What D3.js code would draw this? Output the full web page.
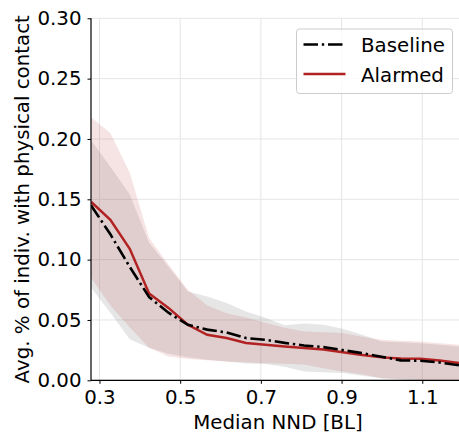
<!DOCTYPE html>
<html>
<head>
<meta charset="utf-8">
<script src="https://cdn.jsdelivr.net/npm/d3@7"></script>
<style>
  body { margin: 0; background: #fff; }
  svg { display: block; font-family: "DejaVu Sans", sans-serif; }
</style>
</head>
<body>
<svg id="chart" width="459" height="434"></svg>
<script>
// median nearest-neighbour distance (body lengths)
const nnd = [0.279, 0.327, 0.375, 0.423, 0.471, 0.519, 0.567, 0.615, 0.663, 0.711,
             0.759, 0.807, 0.855, 0.903, 0.951, 0.999, 1.047, 1.095, 1.143, 1.191];

// baseline condition: mean and band
const baseMean = [0.145, 0.121, 0.094, 0.069, 0.056, 0.046, 0.042, 0.0396, 0.035, 0.0336,
                  0.031, 0.0289, 0.0275, 0.025, 0.0225, 0.0195, 0.0165, 0.0162, 0.0148, 0.0124];
const baseHi = [0.199, 0.177, 0.154, 0.114, 0.094, 0.0736, 0.0694, 0.064, 0.057, 0.0518,
                0.0456, 0.047, 0.046, 0.0427, 0.0377, 0.0322, 0.0315, 0.0308, 0.0294, 0.028];
const baseLo = [0.077, 0.056, 0.034, 0.027, 0.022, 0.019, 0.017, 0.0155, 0.014, 0.0135,
                0.0112, 0.0073, 0.0066, 0.006, 0.0037, 0.0018, 0.0004, 0, 0, 0];

// alarmed condition: mean and band
const alarmMean = [0.148, 0.133, 0.109, 0.072, 0.060, 0.046, 0.0377, 0.035, 0.031, 0.0294,
                   0.028, 0.0267, 0.0255, 0.0232, 0.021, 0.019, 0.018, 0.0178, 0.0165, 0.0143];
const alarmHi = [0.218, 0.205, 0.172, 0.118, 0.096, 0.075, 0.062, 0.0555, 0.052, 0.0477,
                 0.0435, 0.0404, 0.0398, 0.0391, 0.036, 0.0336, 0.0327, 0.0322, 0.0307, 0.0294];
const alarmLo = [0.085, 0.062, 0.044, 0.027, 0.0197, 0.0176, 0.0166, 0.0156, 0.015, 0.0142,
                 0.0138, 0.013, 0.010, 0.0073, 0.005, 0.0018, 0.001, 0.0003, 0, 0];

const xTicks = [0.3, 0.5, 0.7, 0.9, 1.1];
const yTicks = [0, 0.05, 0.10, 0.15, 0.20, 0.25, 0.30];
const seriesNames = ["Baseline", "Alarmed"];

const mLeft = 91, mRight = 459, mTop = 18.3, mBottom = 380.3;
const fs = 19.8;
const dashDot = "14.5,3.8,2.4,3.8";

const svg = d3.select("#chart");
const x = d3.scaleLinear().domain(d3.extent(nnd)).range([mLeft, mRight]);
const y = d3.scaleLinear().domain([0, 0.30]).range([mBottom, mTop]);

svg.append("defs").append("clipPath").attr("id", "plotclip")
  .append("rect").attr("x", mLeft).attr("y", mTop).attr("width", mRight - mLeft).attr("height", mBottom - mTop);

// grid
const grid = svg.append("g").attr("stroke", "#e5e5e5").attr("stroke-width", 1);
grid.selectAll("line.v").data(xTicks).join("line").attr("class", "v")
  .attr("x1", d => x(d)).attr("x2", d => x(d)).attr("y1", mTop).attr("y2", mBottom);
grid.selectAll("line.h").data(yTicks).join("line").attr("class", "h")
  .attr("x1", mLeft).attr("x2", mRight).attr("y1", d => y(d)).attr("y2", d => y(d));

const plot = svg.append("g").attr("clip-path", "url(#plotclip)");

const area = (lo, hi) => d3.area()
  .x((d, i) => x(nnd[i])).y0((d, i) => y(lo[i])).y1((d, i) => y(hi[i]));

plot.append("path").attr("d", area(baseLo, baseHi)(nnd))
  .attr("fill", "#808080").attr("fill-opacity", 0.2);
plot.append("path").attr("d", area(alarmLo, alarmHi)(nnd))
  .attr("fill", "#b22222").attr("fill-opacity", 0.12);

const line = vals => d3.line().x((d, i) => x(nnd[i])).y((d, i) => y(vals[i]));

plot.append("path").attr("d", line(alarmMean)(nnd))
  .attr("fill", "none").attr("stroke", "#b22222").attr("stroke-width", 2.5);
plot.append("path").attr("d", line(baseMean)(nnd))
  .attr("fill", "none").attr("stroke", "#000").attr("stroke-width", 2.6)
  .attr("stroke-dasharray", dashDot);

// axes
const xAxis = svg.append("g").attr("transform", `translate(0,${mBottom})`)
  .call(d3.axisBottom(x).tickValues(xTicks).tickFormat(d3.format(".1f")).tickSize(3.5).tickPadding(6));
const yAxis = svg.append("g").attr("transform", `translate(${mLeft},0)`)
  .call(d3.axisLeft(y).tickValues(yTicks).tickFormat(d3.format(".2f")).tickSize(3.5).tickPadding(6));
[xAxis, yAxis].forEach(a => {
  a.select(".domain").attr("stroke", "#000").attr("stroke-width", 1.2);
  a.selectAll(".tick line").attr("stroke", "#000").attr("stroke-width", 1);
  a.selectAll(".tick text").attr("fill", "#000").style("font-size", fs + "px").style("font-family", "DejaVu Sans");
});
xAxis.select(".domain").attr("d", `M${mLeft},0H${mRight}`);
yAxis.select(".domain").attr("d", `M0,${mBottom}V${mTop}`);

svg.append("text").attr("x", (mLeft + mRight) / 2 + 3).attr("y", 429)
  .attr("text-anchor", "middle").style("font-size", fs + "px").text("Median NND [BL]");
svg.append("text").attr("transform", `translate(28.5,${(mTop + mBottom) / 2}) rotate(-90)`)
  .attr("text-anchor", "middle").style("font-size", fs + "px")
  .text("Avg. % of indiv. with physical contact");

// legend
const lg = svg.append("g");
lg.append("rect").attr("x", 296.5).attr("y", 29).attr("width", 156).attr("height", 64.5)
  .attr("rx", 3).attr("fill", "#fff").attr("fill-opacity", 0.8)
  .attr("stroke", "#cccccc").attr("stroke-width", 1);
const legendItems = seriesNames.map((name, i) => ({ name, i }));
lg.selectAll("line").data(legendItems).join("line")
  .attr("x1", 303.5).attr("x2", 345.5)
  .attr("y1", d => 44.5 + d.i * 29.5).attr("y2", d => 44.5 + d.i * 29.5)
  .attr("stroke", d => d.i === 0 ? "#000" : "#b22222")
  .attr("stroke-width", d => d.i === 0 ? 2.6 : 2.5)
  .attr("stroke-dasharray", d => d.i === 0 ? dashDot : null);
lg.selectAll("text").data(legendItems).join("text")
  .attr("x", 361).attr("y", d => 52.2 + d.i * 29.5)
  .style("font-size", fs + "px").text(d => d.name);
</script>
</body>
</html>
